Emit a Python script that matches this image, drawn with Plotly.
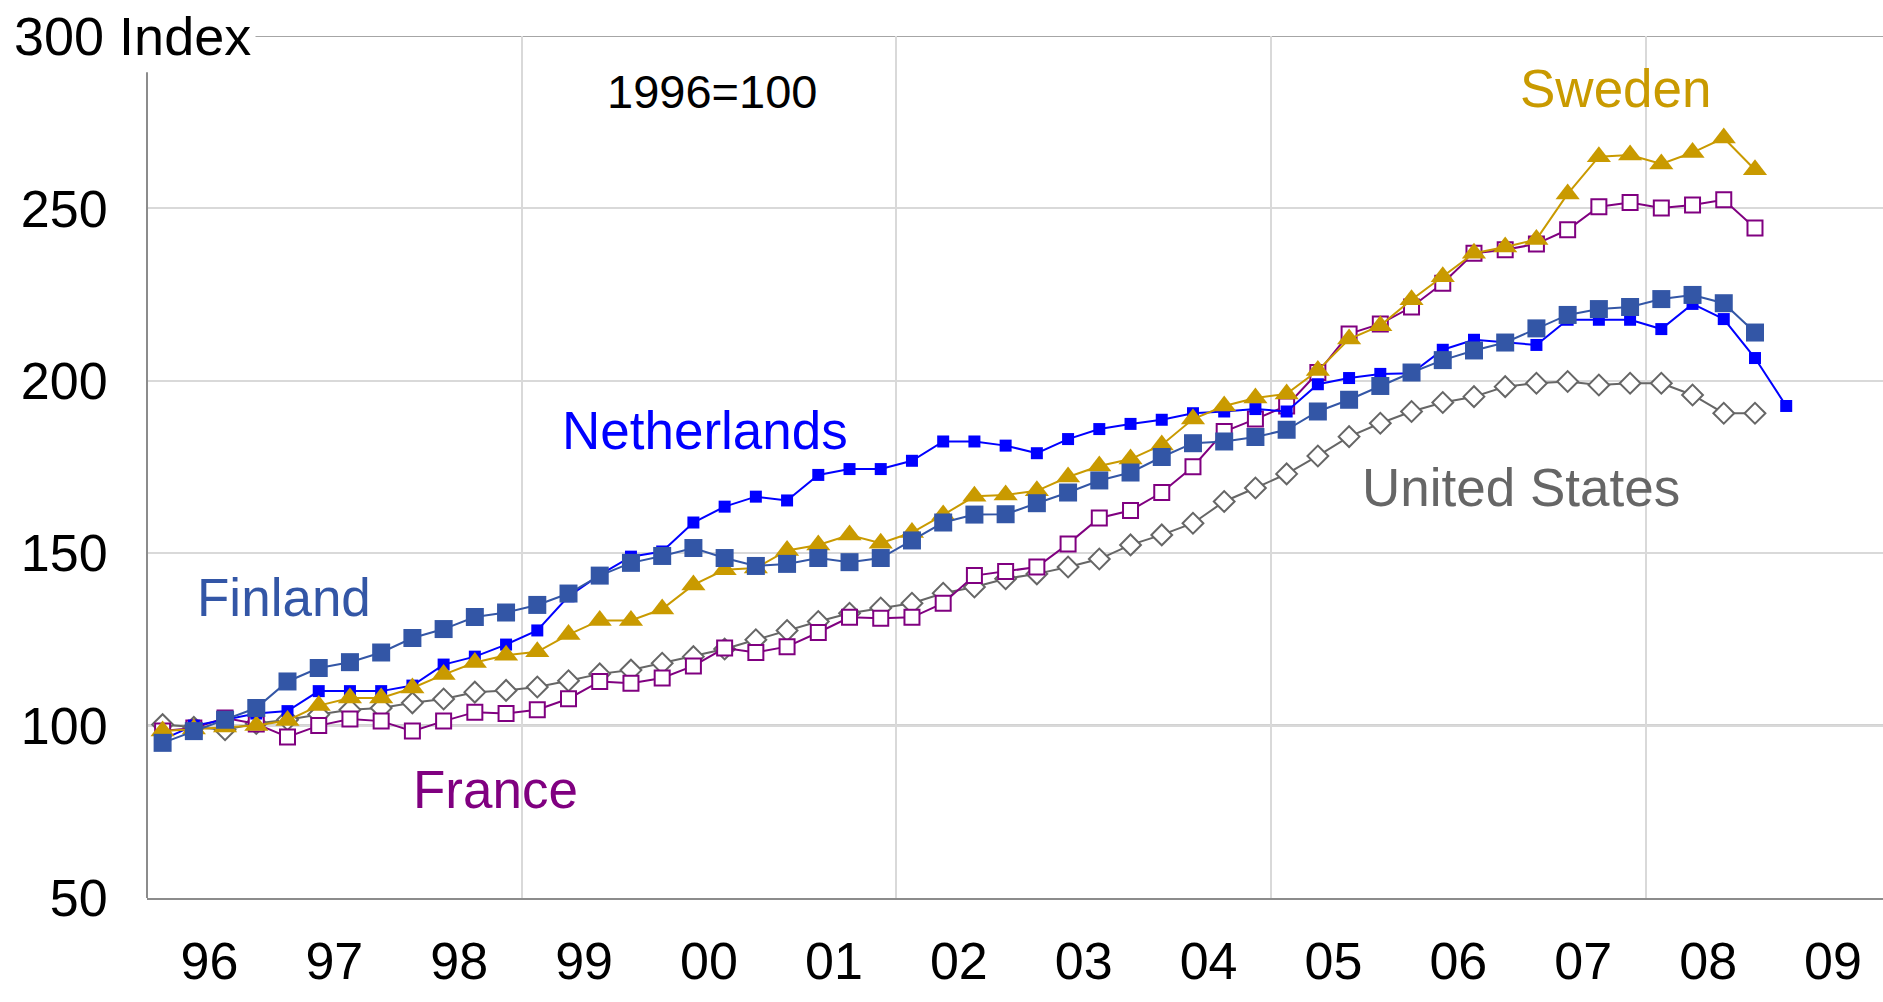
import plotly.graph_objects as go

# quarters 1996Q1 .. 2009Q1
quarters = [f"{y}Q{q}" for y in range(1996, 2009) for q in range(1, 5)] + ["2009Q1"]
year_labels = ["96", "97", "98", "99", "00", "01", "02", "03", "04", "05", "06", "07", "08", "09"]

netherlands = [96, 100, 101.7, 103.5, 104.2, 110, 110, 110, 111.6, 117.7, 120, 123.5,
               127.6, 137.5, 143.7, 149, 150.5, 158.9, 163.5, 166.4, 165.3, 172.7, 174.4, 174.4,
               176.8, 182.4, 182.4, 181.2, 179, 183.1, 186, 187.5, 188.7, 190.6, 191.1, 191.8,
               191.1, 199, 200.8, 202, 202.2, 209, 211.9, 211.1, 210.4, 217.7, 217.7, 217.7,
               215, 222.3, 217.9, 206.6, 192.7]
finland = [95, 98.4, 101.7, 105.1, 112.8, 116.7, 118.4, 121.2, 125.4, 128, 131.5, 132.8,
           135, 138.3, 143.5, 147.2, 149.2, 151.5, 148.6, 146.3, 146.9, 148.6, 147.4, 148.6,
           153.7, 158.9, 161.2, 161.3, 164.5, 167.6, 171.1, 173.4, 177.9, 181.9, 182.4, 183.7,
           185.8, 191.1, 194.5, 198.5, 202.4, 206, 208.8, 211.1, 215.2, 219.1, 220.8, 221.4,
           223.7, 224.9, 222.5, 214]
sweden = [98.4, 99, 99.6, 100, 101.5, 105.8, 108, 108, 110.9, 114.8, 118.3, 120.4,
          121.4, 126.4, 130.5, 130.5, 133.8, 140.8, 145.2, 145.7, 150.8, 152.4, 155.3, 152.9,
          156, 161.1, 166.5, 166.9, 168.1, 172.1, 175.3, 177.3, 181.4, 188.9, 192.7, 195,
          196.2, 203, 212.1, 216, 223.5, 230.2, 237, 238.8, 241, 254.2, 265, 265.5,
          262.9, 266.2, 270.4, 261.2]
france = [98.4, 99.3, 102.2, 100.5, 96.7, 100, 101.9, 101.3, 98.4, 101.3, 103.9, 103.5,
          104.6, 107.8, 112.8, 112.3, 113.8, 117.3, 122.5, 121.2, 122.9, 127, 131.4, 131.1,
          131.4, 135.5, 143.5, 144.7, 146, 152.7, 160.2, 162.4, 167.6, 175.1, 185.3, 188.9,
          192.7, 202.4, 213.6, 216.5, 221.4, 228.3, 237, 238, 239.7, 243.8, 250.5, 251.7,
          250.1, 251, 252.5, 244.3]
united_states = [100.3, 99.5, 98.8, 100.6, 101.7, 103.2, 104.6, 105.1, 106.6, 107.7, 109.7, 110.2,
                 111.2, 113, 115, 116.1, 118.1, 120, 122.2, 124.9, 127.6, 130.2, 132.6, 134.1,
                 135.5, 138.4, 140.2, 142.6, 144, 146, 148.3, 152.4, 155.3, 158.7, 165, 168.9,
                 173, 178.2, 183.8, 187.7, 191.1, 193.7, 195.4, 198.3, 199.3, 199.8, 198.8, 199.3,
                 199.3, 195.9, 190.6, 190.6]

FONT = "Liberation Sans, Arial, sans-serif"


def qx(labels):
    # quarter label -> decimal year at the middle of the quarter
    return [int(s[:4]) + (int(s[5]) - 0.5) / 4 for s in labels]


x_all = qx(quarters)
series = [
    # name, values, colour, marker
    ("United States", united_states, "#666666", dict(symbol="diamond", size=16, color="white", line=dict(color="#666666", width=2))),
    ("France", france, "#800080", dict(symbol="square", size=15, color="white", line=dict(color="#800080", width=2))),
    ("Netherlands", netherlands, "#0000ff", dict(symbol="square", size=12, color="#0000ff")),
    ("Sweden", sweden, "#c99a00", dict(symbol="triangle-up", size=21, color="#c99a00")),
    ("Finland", finland, "#3356a6", dict(symbol="square", size=18, color="#3356a6")),
]

fig = go.Figure()
for name, vals, col, mk in series:
    fig.add_trace(go.Scatter(
        x=x_all[:len(vals)], y=vals, name=name, mode="lines+markers",
        line=dict(color=col, width=2), marker=mk, showlegend=False,
    ))

labels = [
    ("Netherlands", 2000.47, 185.5, "#0000ff"),
    ("Finland", 1997.10, 137.1, "#3356a6"),
    ("France", 1998.79, 81.4, "#800080"),
    ("Sweden", 2007.76, 284.7, "#c99a00"),
    ("United States", 2007.0, 169, "#666666"),
]
for txt, x, y, col in labels:
    fig.add_annotation(x=x, y=y, text=txt, showarrow=False,
                       font=dict(family=FONT, size=53, color=col))
fig.add_annotation(x=2000.52, y=283.8, text="1996=100", showarrow=False,
                   font=dict(family=FONT, size=47, color="black"))
fig.add_annotation(xref="paper", x=0, xshift=-138, xanchor="left", y=300, yanchor="middle",
                   text="300 Index", showarrow=False, bgcolor="white", borderpad=4,
                   font=dict(family=FONT, size=54, color="black"))

# darker reference line at 100, top line at 300, left axis
fig.add_shape(type="line", xref="paper", x0=0, x1=1, y0=100, y1=100,
              line=dict(color="#a6a6a6", width=2), layer="below")
fig.add_shape(type="line", xref="paper", x0=0, x1=1, y0=300, y1=300,
              line=dict(color="#a6a6a6", width=2), layer="below")
fig.add_shape(type="line", xref="paper", x0=0, x1=0, y0=50, y1=289.5,
              line=dict(color="#8c8c8c", width=2), layer="above")

fig.update_xaxes(
    range=[1996.0, 2009.9],
    tickvals=[1996.5 + i for i in range(len(year_labels))], ticktext=year_labels,
    ticks="outside", ticklen=17, tickcolor="rgba(0,0,0,0)",
    showgrid=False, zeroline=False,
    showline=True, linecolor="#8c8c8c", linewidth=2,
    minor=dict(tickvals=[1999, 2002, 2005, 2008], showgrid=True,
               gridcolor="#d9d9d9", gridwidth=1.5, ticks=""),
    tickfont=dict(family=FONT, size=52, color="black"),
)
fig.update_yaxes(
    range=[50, 300],
    tickvals=[50, 100, 150, 200, 250], ticktext=["50", "100", "150", "200", "250"],
    ticks="outside", ticklen=28, tickcolor="rgba(0,0,0,0)",
    showgrid=True, gridcolor="#d9d9d9", gridwidth=1.5, zeroline=False,
    showline=False,
    tickfont=dict(family=FONT, size=52, color="black"),
)
fig.update_layout(
    width=1883, height=1002,
    margin=dict(l=147, r=0, t=36, b=104),
    plot_bgcolor="white", paper_bgcolor="white",
    font=dict(family=FONT),
)
fig.write_html("out.html", config={"displayModeBar": False},
               post_script="document.body.style.margin='0';")
